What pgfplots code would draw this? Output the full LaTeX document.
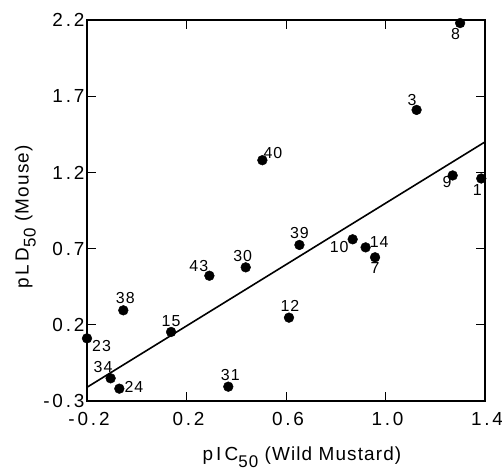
\documentclass[border=0pt]{standalone}
\usepackage{pgfplots}
\pgfplotsset{compat=1.18}
\usepackage{fontspec}
\setmainfont{Liberation Sans}
\newfontfamily\tickfont[LetterSpace=15]{Liberation Sans}
\newfontfamily\plotfont[LetterSpace=6]{Liberation Sans}

\begin{document}
\begin{tikzpicture}
    \begin{axis}[
        scale only axis,
        width=398bp, height=381bp,
        xmin=-0.2, xmax=1.4,
        ymin=-0.3, ymax=2.2,
        xtick={-0.2,0.2,0.6,1.0,1.4},
        ytick={-0.3,0.2,0.7,1.2,1.7,2.2},
        xticklabels={-0.2,0.2,0.6,1.0,1.4},
        yticklabels={-0.3,0.2,0.7,1.2,1.7,2.2},
        tick align=inside,
        major tick length=9bp,
        tick style={line width=0.9bp, black},
        axis line style={line width=1.6bp},
        ticklabel style={font=\tickfont\fontsize{19}{22}\selectfont},
        xticklabel style={yshift=-8bp, xshift=2bp},
        yticklabel style={xshift=1bp},
        xlabel={p\,I\,C\raisebox{-7bp}{\fontsize{17}{17}\selectfont 50}\ (Wild Mustard)},
        ylabel={p\,L\,D\raisebox{-7bp}{\fontsize{17}{17}\selectfont 50}\ (Mouse)},
        label style={font=\plotfont\fontsize{19}{22}\selectfont},
        xlabel style={at={(axis description cs:0.54,-0.148)}, anchor=center},
        ylabel style={at={(axis description cs:-0.155,0.483)}, anchor=center},
        clip=false,
    ]
        % regression line
        \addplot[black, line width=1.6bp] coordinates {(-0.2,-0.21) (1.4,1.40)};
        % compounds
        \addplot[only marks, mark=*, mark size=4.9bp, black] coordinates {
            (1.385,1.16)  % 1
            (1.125,1.61)  % 3
            (0.958,0.643) % 7
            (1.300,2.18)  % 8
            (1.270,1.18)  % 9
            (0.868,0.761) % 10
            (0.612,0.247) % 12
            (0.920,0.708) % 14
            (0.138,0.153) % 15
            (-0.200,0.111) % 23
            (-0.070,-0.219) % 24
            (0.438,0.577) % 30
            (0.368,-0.206) % 31
            (-0.105,-0.151) % 34
            (-0.054,0.295) % 38
            (0.654,0.724) % 39
            (0.505,1.28)  % 40
            (0.292,0.522) % 43
        };
        \begin{scope}[every node/.style={font=\plotfont\fontsize{16}{18}\selectfont, inner sep=2bp}]
            \node[below left, xshift=2bp, yshift=-3bp] at (axis cs:1.300,2.18) {8};
            \node[above left, xshift=2bp, yshift=2bp] at (axis cs:1.125,1.61) {3};
            \node[above right, xshift=-1bp, yshift=-1bp] at (axis cs:0.505,1.28) {40};
            \node[below left, xshift=1bp, yshift=1bp] at (axis cs:1.270,1.18) {9};
            \node[below, xshift=-4bp, yshift=-4bp] at (axis cs:1.385,1.16) {1};
            \node[above, yshift=4bp] at (axis cs:0.654,0.724) {39};
            \node[above, yshift=3bp, xshift=-3bp] at (axis cs:0.438,0.577) {30};
            \node[above left, yshift=2bp, xshift=1bp] at (axis cs:0.292,0.522) {43};
            \node[above, yshift=4bp, xshift=2bp] at (axis cs:-0.054,0.295) {38};
            \node[above, yshift=3bp] at (axis cs:0.138,0.153) {15};
            \node[below right, xshift=3bp, yshift=0bp] at (axis cs:-0.200,0.111) {23};
            \node[above left, xshift=4bp, yshift=3bp] at (axis cs:-0.105,-0.151) {34};
            \node[right, xshift=3bp, yshift=2bp] at (axis cs:-0.070,-0.219) {24};
            \node[above, yshift=4bp, xshift=2bp] at (axis cs:0.368,-0.206) {31};
            \node[above, yshift=4bp, xshift=1bp] at (axis cs:0.612,0.247) {12};
            \node[left, xshift=-2bp, yshift=-8bp] at (axis cs:0.868,0.761) {10};
            \node[right, xshift=2bp, yshift=5bp] at (axis cs:0.920,0.708) {14};
            \node[below, yshift=-3bp] at (axis cs:0.958,0.643) {7};
        \end{scope}
    \end{axis}
    \pgfresetboundingbox
    \path ([xshift=-87bp,yshift=-73bp]current axis.south west) rectangle ([xshift=17bp,yshift=20bp]current axis.north east);
\end{tikzpicture}
\end{document}
